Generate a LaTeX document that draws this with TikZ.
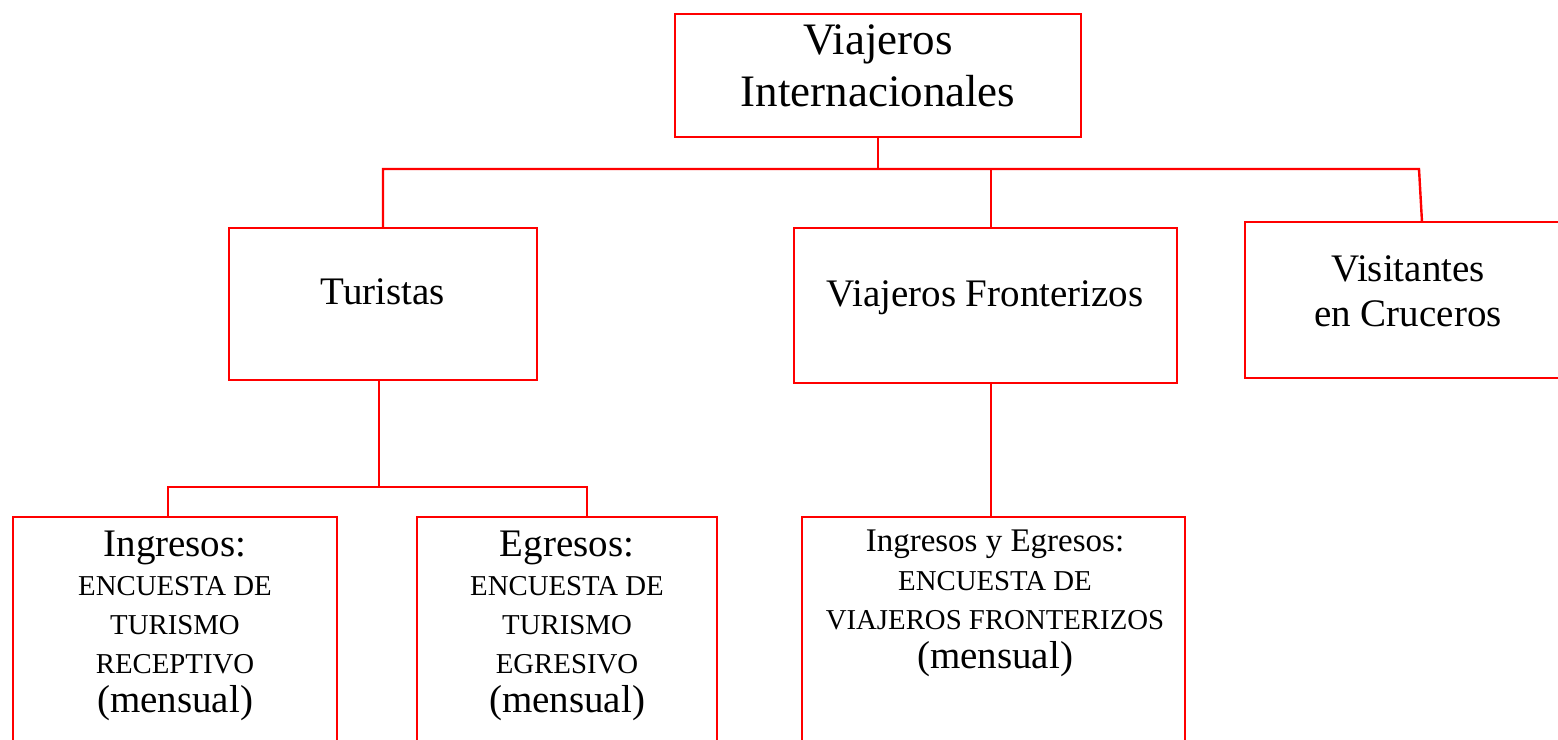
\documentclass[tikz,border=0pt]{standalone}
\usepackage{fontspec}
\setmainfont{Liberation Serif}
\newcommand{\fs}[2]{\fontsize{#1}{#2}\selectfont}
\begin{document}
\begin{tikzpicture}[x=0.5pt,y=-0.5pt,
  box/.style={draw=red,line width=1.2pt,inner sep=0pt},
  conn/.style={draw=red,line width=1.2pt},
  lbl/.style={align=center,inner sep=0pt,text=black}]
\useasboundingbox (0,0) rectangle (1558,739);
\clip (0,0) rectangle (1558,739);
% boxes
\node[box,minimum width=203pt,minimum height=61.5pt] (top) at (878,75.5) {};
\node[box,minimum width=154pt,minimum height=76pt] (tur) at (383,304) {};
\node[box,minimum width=191.5pt,minimum height=77.5pt] (vf) at (985.5,305.5) {};
\node[box,minimum width=187.5pt,minimum height=78pt] (vis) at (1432.5,300) {};
\node[box,minimum width=162pt,minimum height=141.5pt] (ing) at (175,658.5) {};
\node[box,minimum width=150pt,minimum height=141.5pt] (egr) at (567,658.5) {};
\node[box,minimum width=191.5pt,minimum height=141.5pt] (vfb) at (993.5,658.5) {};
% connector points
\coordinate (busR) at (1419,169);
\coordinate (vistop) at (1422,222);
\coordinate (vfx) at (991,169);
\coordinate (t2) at (379,487);
\coordinate (bL) at (168,487);
\coordinate (bR) at (587,487);
\coordinate (vbx) at (991,450);
% connectors
\draw[conn] (top.south) -- (top.south |- busR);
\draw[conn] (tur.north) |- (busR) -- (vistop);
\draw[conn] (vf.north -| vfx) -- (vfx);
\draw[conn] (tur.south -| t2) -- (t2);
\draw[conn] (ing.north -| bL) |- (bR) -- (egr.north -| bR);
\draw[conn] (vf.south -| vbx) -- (vfb.north -| vbx);
% labels
\node[lbl,font=\fs{22.5}{26}] (ttop) at (878,66) {Viajeros\\Internacionales};
\node[lbl,font=\fs{19.5}{22.5}] (ttur) at (383,292) {Turistas};
\node[lbl,font=\fs{19.5}{22.5}] (tvf) at (985,298) {Viajeros Fronterizos};
\node[lbl,font=\fs{19.5}{22.5}] (tvis) at (1408,291) {Visitantes\\en Cruceros};
\node[lbl,font=\fs{14.4}{19.5}] (ting) at (175,626) {{\fs{19.5}{19.5}Ingresos:}\\ENCUESTA DE\\TURISMO\\RECEPTIVO\\{\fs{19.5}{19.5}(mensual)}};
\node[lbl,font=\fs{14.4}{19.5}] (tegr) at (567,626) {{\fs{19.5}{19.5}Egresos:}\\ENCUESTA DE\\TURISMO\\EGRESIVO\\{\fs{19.5}{19.5}(mensual)}};
\node[lbl,font=\fs{14.4}{19.5}] (tvfb) at (995,603.5) {{\fs{16.5}{19.5}Ingresos y Egresos:}\\ENCUESTA DE\\VIAJEROS FRONTERIZOS\\{\fs{19.5}{19.5}(mensual)}};
\end{tikzpicture}
\end{document}
